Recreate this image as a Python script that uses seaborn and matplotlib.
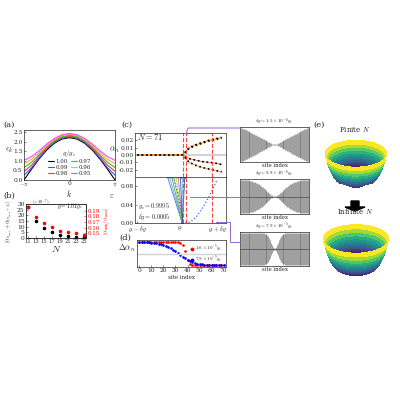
import numpy as np
import matplotlib
matplotlib.use("Agg")
import matplotlib.pyplot as plt
import matplotlib.patches
import seaborn as sns
from matplotlib.lines import Line2D

sns.set_theme(style="ticks")
plt.rcParams["font.family"] = ["serif"]
plt.rcParams["font.serif"] = ["DejaVu Serif"]
plt.rcParams["mathtext.fontset"] = "cm"
plt.rcParams["font.size"] = 4.2
plt.rcParams["axes.linewidth"] = 0.5
for a in ("x", "y"):
    plt.rcParams[a + "tick.major.size"] = 1.5
    plt.rcParams[a + "tick.major.width"] = 0.4
    plt.rcParams[a + "tick.major.pad"] = 1
    plt.rcParams[a + "tick.labelsize"] = 4.2
    plt.rcParams[a + "tick.direction"] = "in"

# ---- panel (a) data: dispersion eps_k at k = j*pi/6
k_vals = np.arange(-6, 7) * np.pi / 6
g_labels = ["1.00", "0.99", "0.98", "0.97", "0.96", "0.95"]
g_colors = ["black", "#3355ff", "#ff3333", "#22cc22", "#ffaa44", "#ff44ff"]
eps_half = [
    [2.20, 2.13, 1.91, 1.56, 1.10, 0.57, 0.00],
    [2.25, 2.17, 1.96, 1.61, 1.15, 0.64, 0.25],
    [2.29, 2.22, 2.00, 1.67, 1.23, 0.77, 0.45],
    [2.33, 2.26, 2.05, 1.73, 1.32, 0.92, 0.65],
    [2.38, 2.31, 2.11, 1.80, 1.42, 1.08, 0.85],
    [2.42, 2.35, 2.16, 1.87, 1.52, 1.22, 1.02],
]

# ---- panel (b) data
N_vals = [11, 13, 15, 17, 19, 21, 23, 25]
diff_black = [27, 15, 8.5, 5, 3, 2, 1, 0.5]
ratio_red = [0.1955, 0.1787, 0.1678, 0.1609, 0.155, 0.152, 0.150, 0.147]

# ---- panel (c) data (x in units of delta g around g_c)
x_branch = [-1.0, -0.5, 0.0, 0.05, 0.2, 0.35, 0.5, 0.65, 0.8, 0.95]
up1 = [0, 0, 0, 0, 0.010, 0.014, 0.017, 0.020, 0.022, 0.024]
up2 = [0, 0, 0, 0, 0.009, 0.013, 0.016, 0.019, 0.021, 0.023]
lo1 = [0, 0, 0, 0, -0.005, -0.007, -0.009, -0.010, -0.011, -0.013]
lo2 = [0, 0, 0, 0, -0.010, -0.014, -0.017, -0.019, -0.021, -0.023]
fan_start = [-0.3, -0.25, -0.2, -0.15, -0.1, -0.05, 0.0, 0.05, 0.1]
fan_colors = ["#4477dd", "#66aadd", "#44aa77", "#88cc44", "#ddcc33", "#cc66cc", "#3355aa", "#77bbee", "#225577"]
para_x = [-0.15, -0.05, 0.05, 0.15, 0.25, 0.35, 0.45, 0.55, 0.65, 0.75, 0.85]
para_y = [0.095, 0.06, 0.002, 0.0, 0.004, 0.012, 0.024, 0.039, 0.056, 0.075, 0.095]
red_lines = [0.05, 0.12, 0.72]

# ---- panel (d) data
site = np.arange(0, 71, 2)
red_d = [1]*17 + [0.98, 0.9, 0.6, 0.2, 0.05] + [0]*14
blue_d = [1, 1, 1, .99, .99, .98, .97, .96, .94, .92, .89, .85, .8, .74, .67, .59,
          .51, .43, .35, .28, .21, .16, .11, .08, .05, .03, .02, .01, 0, 0, 0, 0, 0, 0, 0, 0]

# ---- middle column: amplitude envelopes (sites 0..35, mirrored)
amp1 = [1.0, .98, .96, .93, .91, .88, .86, .83, .8, .77, .75, .72, .69, .66, .63, .6, .57, .54,
        .5, .47, .44, .41, .38, .35, .31, .28, .25, .22, .19, .16, .13, .1, .07, .05, .03, .02]
amp2 = [1, 1, 1, 1, .99, .99, .98, .98, .97, .96, .95, .94, .92, .9, .88, .86, .83, .8,
        .77, .73, .69, .65, .6, .55, .5, .45, .4, .35, .3, .25, .2, .15, .1, .07, .04, .02]
amp3 = [1, 1, 1, 1, 1, 1, 1, 1, 1, 1, 1, 1, 1, 1, 1, 1, 1, 1,
        1, 1, .99, .99, .98, .97, .96, .95, .93, .9, .86, .8, .7, .55, .4, .25, .12, .05]
mid_titles = [r"$\delta g=1.5\times10^{-6}g_c$", r"$\delta g=9.8\times10^{-6}g_c$",
              r"$\delta g=7.9\times10^{-5}g_c$"]

W = 400


def rect(x0, y0, x1, y1):
    return [x0 / W, 1 - y1 / W, (x1 - x0) / W, (y1 - y0) / W]


def ftext(x, y, s, **kw):
    fig.text(x / W, 1 - y / W, s, **kw)


fig = plt.figure(figsize=(4, 4), dpi=100)

# (a)
ax = fig.add_axes(rect(24, 130, 115, 180))
for lab, col, half in zip(g_labels, g_colors, eps_half):
    vals = half[::-1] + half[1:]
    ax.plot(k_vals, vals, color=col, lw=0.8, label=lab)
ax.set_xlim(-np.pi, np.pi)
ax.set_ylim(0, 2.6)
ax.set_xticks([-np.pi, 0, np.pi], [r"$-\pi$", "0", r"$\pi$"])
ax.set_yticks([0, 0.5, 1, 1.5, 2, 2.5])
ax.set_xlabel(r"$k$", fontsize=6, labelpad=0)
ax.set_ylabel(r"$\epsilon_k$", fontsize=6, rotation=0, labelpad=3)
ax.legend(ncol=2, fontsize=4, frameon=False, loc="lower center", handlelength=1.0,
          columnspacing=0.6, labelspacing=0.15, handletextpad=0.3, title=r"$g/g_c$",
          title_fontsize=5, bbox_to_anchor=(0.5, 0.0), borderpad=0.2)
ftext(3, 127, "(a)", fontsize=6)

# (b)
ax = fig.add_axes(rect(26, 204, 86, 238))
ax.scatter(N_vals, diff_black, s=2.5, color="black", zorder=3)
ax.set_ylim(0, 30)
ax.set_xlim(10.6, 25.4)
ax.set_xticks(N_vals)
ax.tick_params(axis="x", labelsize=3.8)
ax.set_yticks([0, 5, 10, 15, 20, 25, 30])
ax.set_xlabel(r"$N$", fontsize=7, labelpad=0)
ax.set_ylabel(r"$|\alpha_{n_{\max}}+\alpha_{(n_{\max}+1)}|$", fontsize=4, labelpad=1)
ax.text(0.1, 1.02, r"$(\times10^{-7})$", transform=ax.transAxes, fontsize=3.3)
ax.text(0.95, 0.88, r"$g=1.01g_c$", transform=ax.transAxes, fontsize=4.2, ha="right")
ax2 = ax.twinx()
ax2.scatter(N_vals, ratio_red, s=2.5, color="red", zorder=3)
ax2.set_ylim(0.1421, 0.2015)
ax2.set_yticks([0.15, 0.16, 0.17, 0.18, 0.19])
ax2.tick_params(axis="y", colors="red", direction="in", length=1.5, labelsize=4)
ax2.set_ylabel(r"$|\alpha_{\min}/\alpha_{\max}|$", color="red", fontsize=4, labelpad=1)
ftext(3, 198, "(b)", fontsize=6)

# (c) top
ax = fig.add_axes(rect(135, 133, 226, 177))
ax.axhline(0, color="lightgray", lw=1.5)
for yb, col in zip([up1, up2, lo1, lo2], ["#ff9933", "#ffbb44", "#cc7733", "#ff9933"]):
    ax.plot(x_branch, yb, color=col, lw=0.6)
    ax.plot(x_branch, yb, ls=":", color="black", lw=1.2)
for xr in red_lines:
    ax.axvline(xr, color="#ff4444", ls="--", lw=0.8)
ax.set_xlim(-1.05, 1.05)
ax.set_ylim(-0.03, 0.03)
ax.set_yticks([-0.02, -0.01, 0, 0.01, 0.02])
ax.set_yticklabels(["-0.02", "-0.01", "0.00", "0.01", "0.02"])
ax.set_xticks([])
ax.set_ylabel(r"$\alpha_n$", fontsize=6, rotation=0, labelpad=3)
ax.text(0.02, 0.84, r"$N=71$", transform=ax.transAxes, fontsize=6)
ftext(121, 127, "(c)", fontsize=6)

# (c) bottom
ax = fig.add_axes(rect(135, 177, 226, 223))
for xs, col in zip(fan_start, fan_colors):
    ax.plot([xs, 0.04], [0.1, 0.0], color=col, lw=0.6, marker=".", ms=1.2)
ax.plot(para_x, para_y, color="#4466ee", ls=":", lw=0.9)
for xr in red_lines:
    ax.axvline(xr, color="#ff4444", ls="--", lw=0.8)
ax.set_xlim(-1.05, 1.05)
ax.set_ylim(0, 0.1)
ax.set_yticks([0, 0.04, 0.08])
ax.set_yticklabels(["0.00", "0.04", "0.08"])
ax.set_xticks([-1, 0, 0.85], [r"$g_c-\delta g$", r"$g_c$", r"$g_c+\delta g$"])
ax.set_ylabel(r"$\varepsilon$", fontsize=6, rotation=0, labelpad=6)
ax.text(0.03, 0.3, r"$g_c=0.9995$", transform=ax.transAxes, fontsize=4.6)
ax.text(0.03, 0.08, r"$\delta g=0.0005$", transform=ax.transAxes, fontsize=4.6)

# (d)
ax = fig.add_axes(rect(137, 240, 226, 267))
ax.axhline(0.5, color="lightgray", lw=1)
ax.scatter(site, red_d, s=0.8, color="red", label=r"$1.6\times10^{-5}g_c$")
ax.scatter(site, blue_d, s=0.8, color="blue", label=r"$7.9\times10^{-5}g_c$")
ax.set_xlim(-2, 72)
ax.set_ylim(-0.1, 1.1)
ax.set_xticks(range(0, 71, 10))
ax.set_yticks([])
ax.set_xlabel("site index", fontsize=4, labelpad=1)
ax.set_ylabel(r"$\Delta\alpha_n$", fontsize=6, rotation=0, labelpad=7)
ax.legend(fontsize=3.5, frameon=False, loc="upper right", markerscale=2, handletextpad=0.3,
          labelspacing=0.1, borderpad=0.2, handlelength=1)
ftext(119, 240, "(d)", fontsize=6)

# middle column
mid_rects = [(240, 127, 309, 162), (240, 179, 309, 214), (240, 232, 309, 266)]
for i, (r_, amp, ttl) in enumerate(zip(mid_rects, [amp1, amp2, amp3], mid_titles)):
    ax = fig.add_axes(rect(*r_))
    full = np.array(amp + amp[::-1])
    idx = np.arange(len(full))
    ax.vlines(idx, -full, full, color="#777777", lw=0.5)
    if i > 0:
        ax.axhline(0, color="#333333", lw=0.4)
    ax.set_xlim(-1, len(full))
    ax.set_ylim(-1.05, 1.05)
    ax.set_xticks([])
    ax.set_yticks([])
    ax.set_title(ttl, fontsize=3.6, pad=0.5)
    ax.set_xlabel("site index", fontsize=3.8, labelpad=0.5)

# purple connectors (figure pixel coords)
purple = "#9966cc"
connectors = [
    [(186, 134), (188, 128), (236, 128), (240, 128)],
    [(190, 197), (240, 197)],
    [(216, 222), (230, 222), (230, 242), (240, 242)],
]
for pts in connectors:
    xs = [p[0] / W for p in pts]
    ys = [1 - p[1] / W for p in pts]
    fig.add_artist(Line2D(xs, ys, color=purple, lw=0.7, transform=fig.transFigure))

# (e) surfaces
grid_r = np.linspace(0, 1.0, 40)
grid_t = np.linspace(0, 2 * np.pi, 120)
R, T = np.meshgrid(grid_r, grid_t)
X, Y = R * np.cos(T), R * np.sin(T)
bump_amp = [0.03, 0.0]
surf_rects = [(304, 134, 406, 200), (304, 218, 406, 288)]
surf_titles = [r"Finite $N$", r"Infinite $N$"]
for r_, ba, ttl, ty in zip(surf_rects, bump_amp, surf_titles, [132, 214]):
    ax = fig.add_axes(rect(*r_), projection="3d")
    Z = (R ** 2 - 0.3) ** 2 - ba * np.cos(6 * T) * np.exp(-((R - 0.55) / 0.15) ** 2)
    ax.plot_surface(X, Y, Z, cmap="viridis", linewidth=0, antialiased=False, rstride=1, cstride=1)
    ax.view_init(elev=28, azim=-60)
    ax.set_box_aspect((1, 1, 0.45), zoom=1.5)
    ax.set_axis_off()
    ftext(355, ty, ttl, fontsize=5, ha="center")
ftext(313, 127, "(e)", fontsize=6)
fig.add_artist(matplotlib.patches.FancyArrow(355 / W, 1 - 201 / W, 0, -6 / W, width=0.02,
                                             head_width=0.05, head_length=0.01,
                                             color="black", transform=fig.transFigure))

fig.savefig("out.png", dpi=100)
